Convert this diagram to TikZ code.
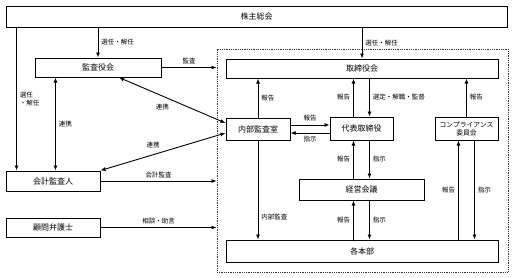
\documentclass[tikz,border=0pt]{standalone}
\usepackage{fontspec}
\setmainfont{Noto Sans CJK JP}
\usetikzlibrary{arrows.meta,positioning}

\begin{document}
\begin{tikzpicture}[
    x=1pt, y=-1pt,
    font=\fontsize{8}{9.5}\selectfont,
    unit/.style={
        draw=black,
        line width=1pt,
        align=center,
        inner sep=0pt
    },
    group/.style={
        draw=black!80,
        densely dotted,
        line width=0.8pt,
        inner sep=0pt
    },
    lab/.style={
        font=\fontsize{6.5}{7.5}\selectfont,
        inner sep=3pt
    },
    arrow/.style={-{Latex[length=5pt,width=4pt]}, line width=0.9pt, draw=black},
    twoway/.style={{Latex[length=5pt,width=4pt]}-{Latex[length=5pt,width=4pt]}, line width=0.9pt, draw=black}
]
\useasboundingbox (0,0) rectangle (513,277);

% company frame (dotted)
\node[group, minimum width=291pt, minimum height=223pt] (kaisha) at (362.5,160.5) {};

% boxes
\node[unit, minimum width=501pt, minimum height=21pt] (soukai) at (256.5,16.5) {株主総会};
\node[unit, minimum width=126pt, minimum height=19pt] (kansayaku) at (98,67.5) {監査役会};
\node[unit, minimum width=272pt, minimum height=19pt] (torishimari) at (362,68.5) {取締役会};
\node[unit, minimum width=64pt, minimum height=22pt] (naibu) at (258,129) {内部監査室};
\node[unit, minimum width=63pt, minimum height=23pt] (daihyo) at (361.5,128.5) {代表取締役};
\node[unit, minimum width=63pt, minimum height=23pt, font=\fontsize{6.8}{8}\selectfont] (compliance) at (466.5,128.5) {コンプライアンス\\委員会};
\node[unit, minimum width=125pt, minimum height=21pt] (keiei) at (361.5,189.5) {経営会議};
\node[unit, minimum width=272pt, minimum height=22pt] (kakuhonbu) at (362,251) {各本部};
\node[unit, minimum width=94pt, minimum height=20pt] (kaikei) at (53,181) {会計監査人};
\node[unit, minimum width=94pt, minimum height=19pt] (komon) at (53,227.5) {顧問弁護士};

% shareholders' meeting
\draw[arrow] (soukai.south -| kansayaku.north) -- node[lab, right] {選任・解任} (kansayaku.north);
\draw[arrow] (soukai.south -| torishimari.north) -- node[lab, right] {選任・解任} (torishimari.north);
\draw[arrow] ([xshift=11pt]soukai.south west) -- node[lab, right, align=left] {選任\\・解任} ([xshift=11pt]kaikei.north west);

% audit board
\draw[arrow] (kansayaku.east) -- node[lab, above] {監査} (kansayaku.east -| kaisha.west);
\draw[twoway] ([xshift=21pt]kansayaku.south west) -- node[lab, right] {連携} ([xshift=21pt]kansayaku.south west |- kaikei.north);
\draw[twoway] ([xshift=21pt]kansayaku.south) -- node[lab, below left] {連携} ([yshift=6pt]naibu.west);
\draw[twoway] (kaikei.north east) -- node[lab, above left] {連携} ([yshift=-4pt]naibu.west);

% outside parties
\draw[arrow] (kaikei.east) -- node[lab, above] {会計監査} (kaikei.east -| kaisha.west);
\draw[arrow] (komon.east) -- node[lab, above] {相談・助言} (komon.east -| kaisha.west);

% internal audit
\draw[arrow] (naibu.north) -- node[lab, right] {報告} (naibu.north |- torishimari.south);
\draw[arrow] (naibu.south) -- node[lab, right, pos=0.77] {内部監査} (naibu.south |- kakuhonbu.north);
\draw[arrow] ([yshift=4pt]naibu.east) -- node[lab, above] {報告} ([yshift=4pt]naibu.east -| daihyo.west);
\draw[arrow] ([yshift=-4pt]naibu.east -| daihyo.west) -- node[lab, below] {指示} ([yshift=-4pt]naibu.east);

% representative director
\draw[arrow] ([xshift=-8pt]daihyo.north) -- node[lab, left] {報告} ([xshift=-8pt]daihyo.north |- torishimari.south);
\draw[arrow] ([xshift=8pt]daihyo.north |- torishimari.south) -- node[lab, right] {選定・解職・監督} ([xshift=8pt]daihyo.north);
\draw[arrow] ([xshift=-8pt]keiei.north) -- node[lab, left] {報告} ([xshift=-8pt]keiei.north |- daihyo.south);
\draw[arrow] ([xshift=8pt]keiei.north |- daihyo.south) -- node[lab, right] {指示} ([xshift=8pt]keiei.north);

% management meeting
\draw[arrow] ([xshift=-8pt]keiei.south |- kakuhonbu.north) -- node[lab, left] {報告} ([xshift=-8pt]keiei.south);
\draw[arrow] ([xshift=8pt]keiei.south) -- node[lab, right] {指示} ([xshift=8pt]keiei.south |- kakuhonbu.north);

% compliance committee
\draw[arrow] (compliance.north) -- node[lab, right] {報告} (compliance.north |- torishimari.south);
\draw[arrow] ([xshift=-8pt]compliance.south |- kakuhonbu.north) -- node[lab, left] {報告} ([xshift=-8pt]compliance.south);
\draw[arrow] ([xshift=8pt]compliance.south) -- node[lab, right] {指示} ([xshift=8pt]compliance.south |- kakuhonbu.north);

\end{tikzpicture}
\end{document}
